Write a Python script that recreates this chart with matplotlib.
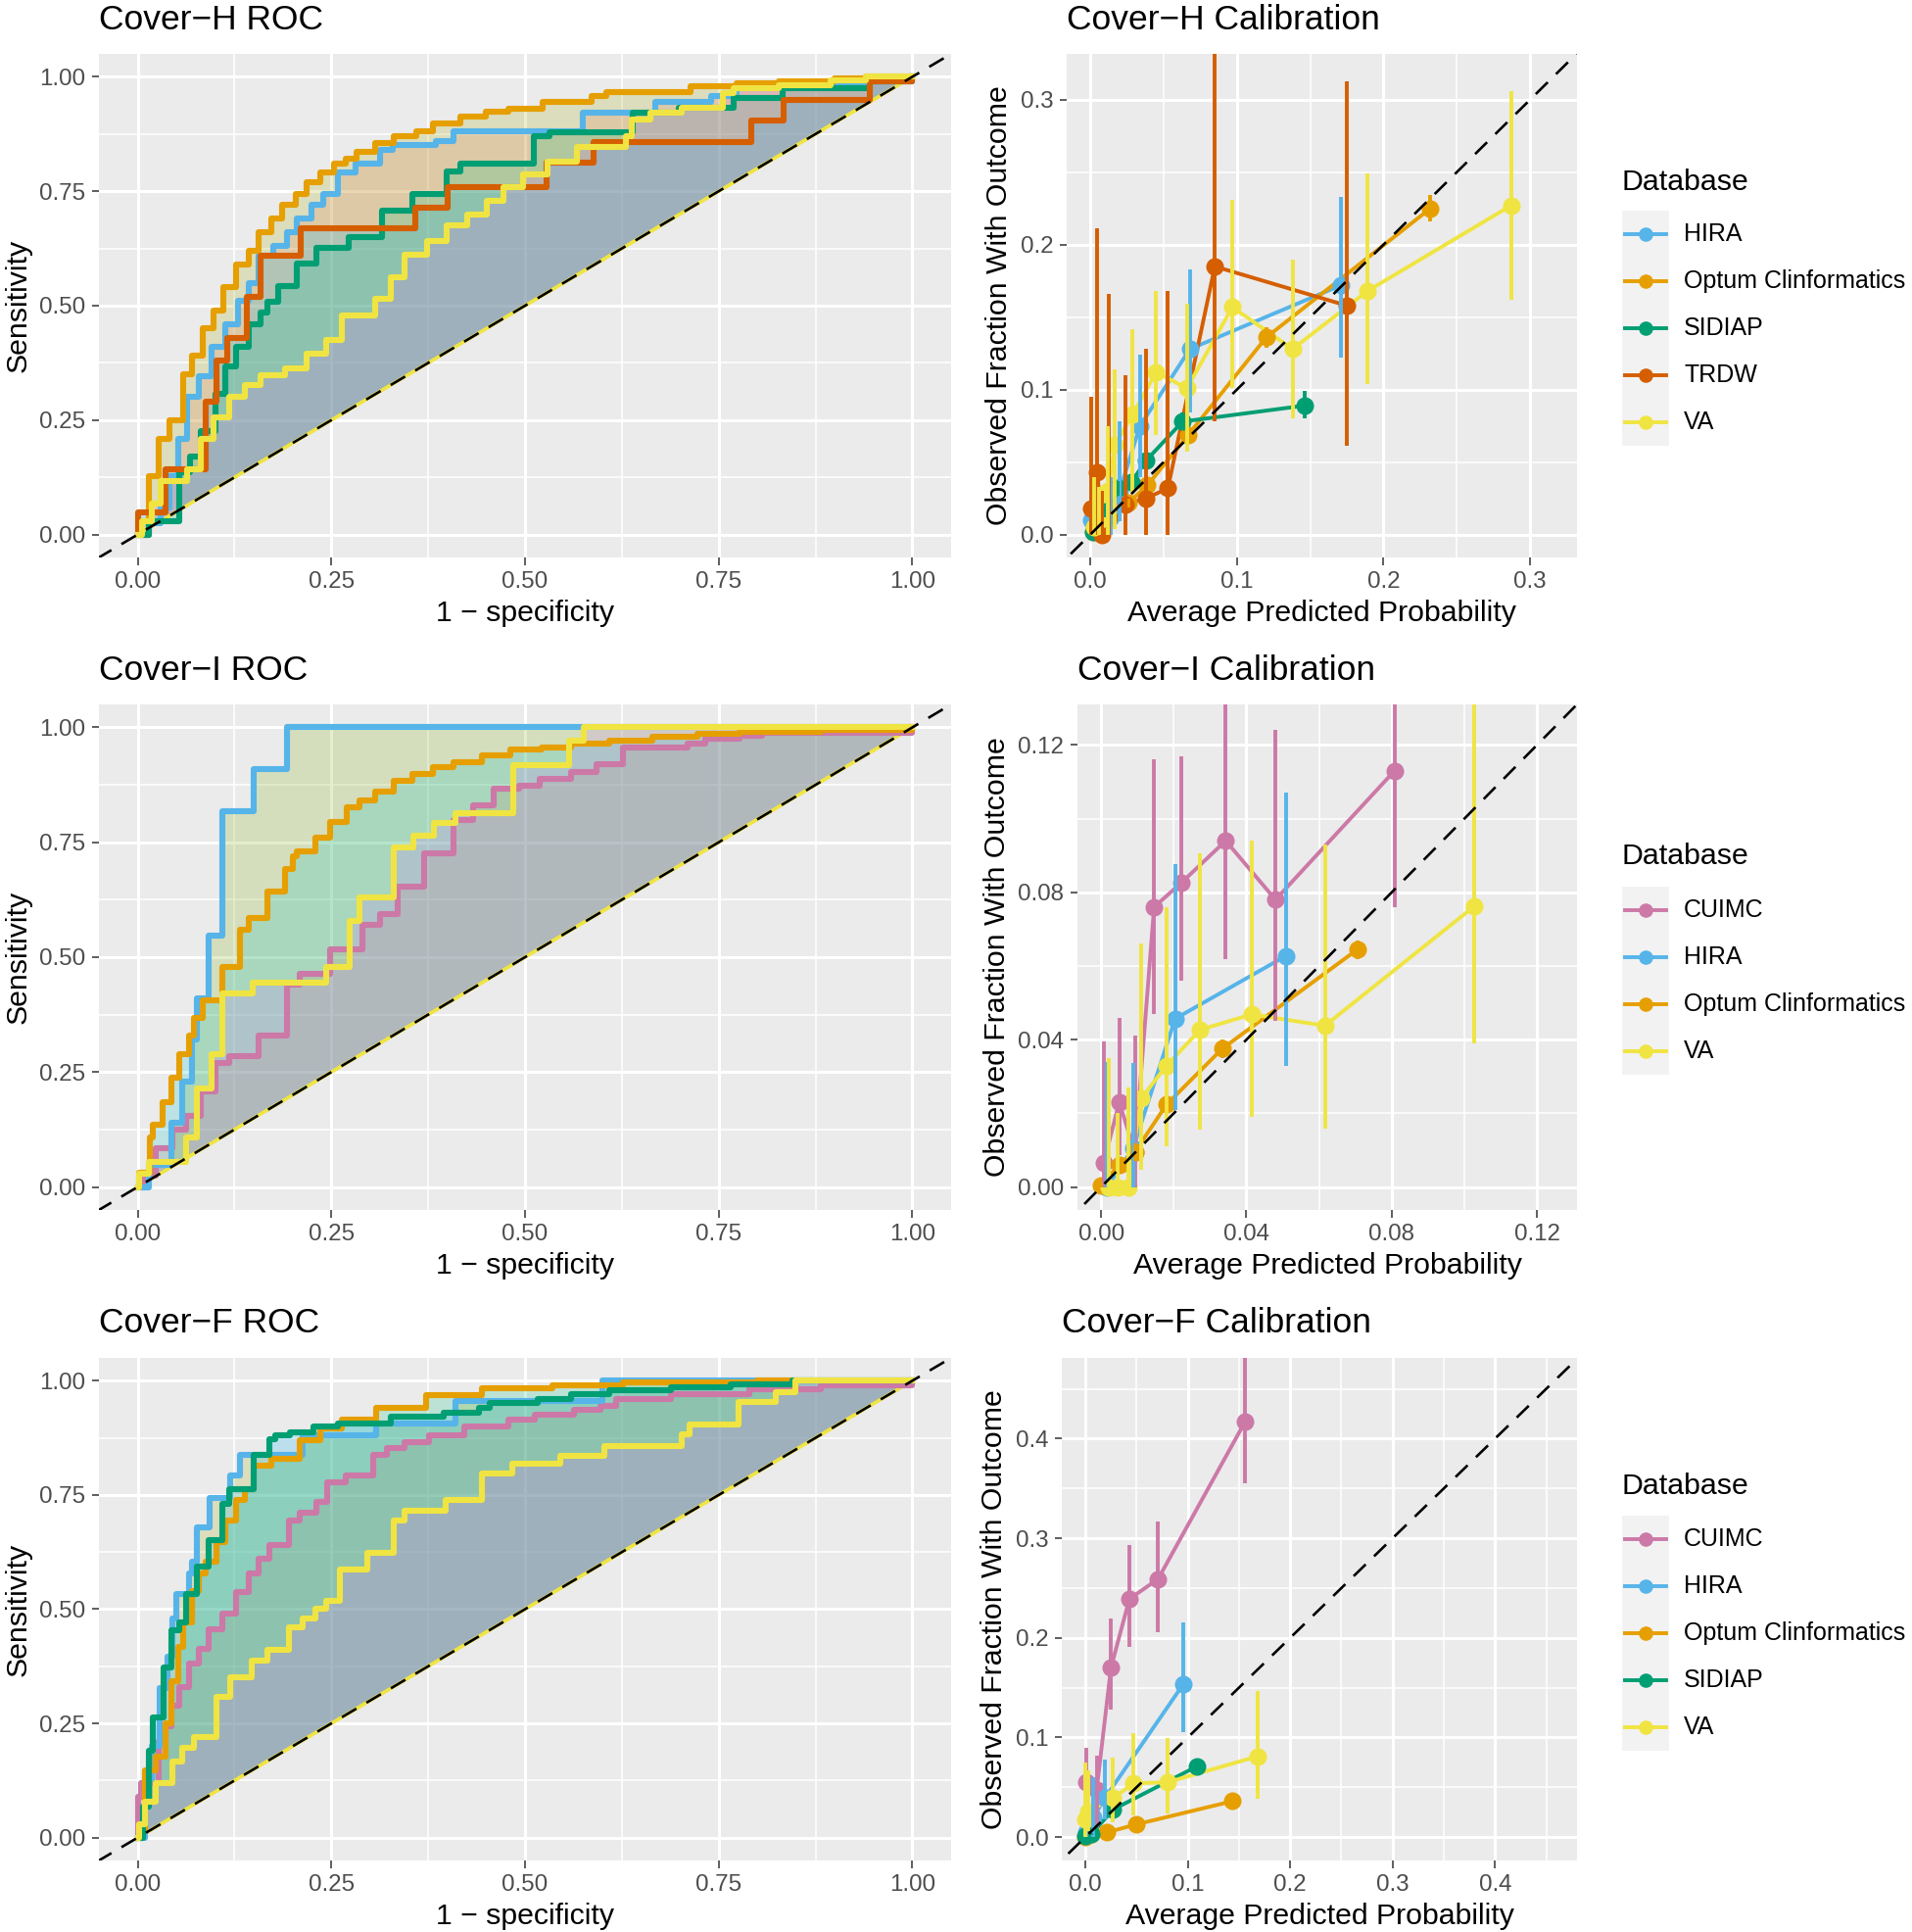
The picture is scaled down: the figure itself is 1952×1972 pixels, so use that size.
import numpy as np
import matplotlib
matplotlib.use("Agg")
import matplotlib.pyplot as plt
from matplotlib.patches import Rectangle

plt.rcParams['font.family'] = ['Liberation Sans', 'DejaVu Sans']

W, H = 1952, 1972
DPI = 100

# ---------------- colours ----------------
LINE_COLORS = {'CUIMC': '#CC79A7', 'HIRA': '#56B4E9', 'Optum Clinformatics': '#E69F00',
               'SIDIAP': '#009E73', 'TRDW': '#D55E00', 'VA': '#F0E442'}
HUE5 = ['#F8766D', '#A3A500', '#00BF7D', '#00B0F6', '#E76BF3']
HUE4 = ['#F8766D', '#7CAE00', '#00BFC4', '#C77CFF']

# ---------------- Cover-H ROC ----------------
H_HIRA_FPR = [0.0, 0.014, 0.030, 0.041, 0.052, 0.064, 0.079, 0.095, 0.113, 0.129, 0.143, 0.156, 0.175, 0.193, 0.206, 0.224,
              0.240, 0.259, 0.281, 0.313, 0.329, 0.385, 0.408, 0.574, 0.668, 0.740, 0.773, 0.832, 0.895, 0.945]
H_HIRA_TPR = [0.0, 0.025, 0.06, 0.128, 0.21, 0.30, 0.345, 0.41, 0.46, 0.51, 0.55, 0.61, 0.63, 0.66, 0.69, 0.72,
              0.745, 0.79, 0.81, 0.84, 0.85, 0.86, 0.88, 0.921, 0.946, 0.957, 0.975, 0.979, 0.986, 0.99]
H_OPTUM_FPR = [0.0, 0.014, 0.027, 0.041, 0.059, 0.070, 0.084, 0.098, 0.111, 0.127, 0.143, 0.156, 0.172, 0.186,
               0.204, 0.218, 0.236, 0.254, 0.268, 0.283, 0.306, 0.331, 0.360, 0.381, 0.417, 0.449, 0.478, 0.523,
               0.586, 0.605, 0.714, 0.773, 0.828, 0.90, 0.94]
H_OPTUM_TPR = [0.0, 0.128, 0.21, 0.25, 0.35, 0.39, 0.45, 0.49, 0.54, 0.59, 0.62, 0.66, 0.69, 0.72,
               0.745, 0.77, 0.79, 0.81, 0.82, 0.836, 0.855, 0.87, 0.88, 0.897, 0.912, 0.924, 0.931, 0.945,
               0.958, 0.967, 0.979, 0.986, 0.991, 0.996, 1.0]
H_SIDIAP_FPR = [0.0, 0.014, 0.054, 0.068, 0.082, 0.100, 0.113, 0.127, 0.143, 0.159, 0.168, 0.181, 0.206, 0.231,
                0.272, 0.315, 0.354, 0.399, 0.417, 0.512, 0.531, 0.639, 0.698, 0.769, 0.832, 0.945]
H_SIDIAP_TPR = [0.0, 0.03, 0.136, 0.17, 0.227, 0.307, 0.368, 0.41, 0.46, 0.486, 0.509, 0.543, 0.593, 0.627,
                0.65, 0.707, 0.745, 0.794, 0.81, 0.87, 0.878, 0.921, 0.932, 0.954, 0.975, 0.99]
H_TRDW_FPR = [0.0, 0.0, 0.036, 0.088, 0.102, 0.116, 0.141, 0.159, 0.211, 0.358, 0.40, 0.528, 0.588, 0.792, 0.834, 0.945]
H_TRDW_TPR = [0.0, 0.048, 0.143, 0.29, 0.38, 0.43, 0.52, 0.61, 0.67, 0.714, 0.76, 0.813, 0.857, 0.904, 0.95, 0.99]
H_VA_FPR = [0.0, 0.005, 0.018, 0.030, 0.064, 0.082, 0.098, 0.118, 0.138, 0.159, 0.190, 0.218, 0.243, 0.263,
            0.306, 0.327, 0.345, 0.374, 0.399, 0.426, 0.451, 0.472, 0.497, 0.529, 0.567, 0.630, 0.638, 0.662,
            0.702, 0.756, 0.769, 0.828, 0.895, 0.94]
H_VA_TPR = [0.0, 0.03, 0.067, 0.117, 0.143, 0.21, 0.257, 0.30, 0.326, 0.349, 0.364, 0.395, 0.425, 0.478,
            0.516, 0.562, 0.612, 0.642, 0.676, 0.699, 0.73, 0.76, 0.786, 0.814, 0.846, 0.871, 0.907, 0.921,
            0.932, 0.964, 0.975, 0.982, 0.993, 1.0]

# ---------------- Cover-I ROC ----------------
I_CUIMC_FPR = [0.0, 0.009, 0.023, 0.045, 0.063, 0.082, 0.100, 0.118, 0.156, 0.193, 0.209, 0.249, 0.290, 0.313,
               0.336, 0.370, 0.408, 0.433, 0.460, 0.492, 0.519, 0.560, 0.592, 0.626, 0.710, 0.733, 0.777, 0.806]
I_CUIMC_TPR = [0.0, 0.024, 0.085, 0.124, 0.154, 0.208, 0.269, 0.284, 0.33, 0.44, 0.463, 0.517, 0.57, 0.593,
               0.654, 0.727, 0.799, 0.83, 0.866, 0.872, 0.889, 0.902, 0.92, 0.957, 0.964, 0.975, 0.982, 0.989]
I_HIRA_FPR = [0.0, 0.014, 0.043, 0.057, 0.070, 0.077, 0.091, 0.109, 0.150, 0.193]
I_HIRA_TPR = [0.0, 0.047, 0.139, 0.23, 0.32, 0.41, 0.547, 0.818, 0.91, 1.0]
I_OPTUM_FPR = [0.0, 0.002, 0.016, 0.020, 0.032, 0.043, 0.054, 0.066, 0.073, 0.084, 0.109, 0.132, 0.143, 0.168,
               0.190, 0.200, 0.206, 0.229, 0.249, 0.270, 0.286, 0.306, 0.331, 0.354, 0.381, 0.408, 0.444, 0.481,
               0.521, 0.559, 0.609, 0.664, 0.723, 0.777, 0.882]
I_OPTUM_TPR = [0.0, 0.032, 0.108, 0.135, 0.185, 0.238, 0.288, 0.33, 0.368, 0.406, 0.479, 0.559, 0.585, 0.643,
               0.692, 0.719, 0.731, 0.761, 0.795, 0.826, 0.841, 0.86, 0.883, 0.898, 0.914, 0.925, 0.94, 0.952,
               0.957, 0.964, 0.971, 0.979, 0.986, 0.991, 0.995]
I_VA_FPR = [0.0, 0.002, 0.014, 0.063, 0.077, 0.095, 0.109, 0.148, 0.243, 0.274, 0.286, 0.331, 0.356, 0.383,
            0.410, 0.485, 0.557, 0.576]
I_VA_TPR = [0.0, 0.028, 0.055, 0.108, 0.215, 0.288, 0.421, 0.444, 0.479, 0.578, 0.631, 0.738, 0.765, 0.792,
            0.814, 0.917, 0.971, 1.0]

# ---------------- Cover-F ROC ----------------
F_CUIMC_FPR = [0.0, 0.0, 0.0045, 0.027, 0.036, 0.043, 0.054, 0.066, 0.079, 0.091, 0.109, 0.127, 0.143, 0.156,
               0.170, 0.195, 0.209, 0.231, 0.245, 0.268, 0.304, 0.322, 0.345, 0.376, 0.422, 0.478, 0.513, 0.563,
               0.597, 0.618, 0.689, 0.790, 0.882]
F_CUIMC_TPR = [0.0, 0.09, 0.12, 0.212, 0.243, 0.289, 0.33, 0.38, 0.414, 0.456, 0.491, 0.537, 0.579, 0.61,
               0.64, 0.693, 0.712, 0.735, 0.777, 0.792, 0.838, 0.853, 0.865, 0.88, 0.899, 0.915, 0.926, 0.936,
               0.946, 0.961, 0.971, 0.982, 0.989]
F_HIRA_FPR = [0.0, 0.009, 0.018, 0.029, 0.039, 0.045, 0.050, 0.066, 0.070, 0.077, 0.093, 0.120, 0.132, 0.213,
              0.308, 0.410, 0.600]
F_HIRA_TPR = [0.0, 0.128, 0.20, 0.327, 0.395, 0.479, 0.533, 0.579, 0.605, 0.678, 0.743, 0.792, 0.838, 0.88,
              0.907, 0.955, 1.0]
F_OPTUM_FPR = [0.0, 0.0045, 0.009, 0.023, 0.036, 0.043, 0.052, 0.059, 0.070, 0.079, 0.088, 0.102, 0.113, 0.127,
               0.138, 0.150, 0.172, 0.209, 0.236, 0.263, 0.308, 0.372, 0.444, 0.535, 0.626, 0.80]
F_OPTUM_TPR = [0.0, 0.014, 0.147, 0.178, 0.25, 0.342, 0.418, 0.472, 0.54, 0.579, 0.605, 0.647, 0.693, 0.739,
               0.762, 0.815, 0.83, 0.869, 0.895, 0.915, 0.941, 0.968, 0.983, 0.99, 0.996, 1.0]
F_SIDIAP_FPR = [0.0, 0.007, 0.014, 0.020, 0.034, 0.043, 0.054, 0.063, 0.077, 0.091, 0.109, 0.118, 0.150, 0.170,
                0.177, 0.197, 0.227, 0.259, 0.327, 0.395, 0.44, 0.454, 0.517, 0.559, 0.609, 0.689, 0.765, 0.845]
F_SIDIAP_TPR = [0.0, 0.067, 0.19, 0.262, 0.372, 0.453, 0.472, 0.533, 0.594, 0.651, 0.731, 0.762, 0.838, 0.873,
                0.88, 0.888, 0.899, 0.907, 0.922, 0.93, 0.941, 0.952, 0.96, 0.971, 0.979, 0.985, 0.993, 1.0]
F_VA_FPR = [0.0, 0.002, 0.009, 0.023, 0.045, 0.057, 0.073, 0.102, 0.120, 0.147, 0.168, 0.195, 0.213, 0.229,
            0.243, 0.261, 0.297, 0.331, 0.345, 0.397, 0.444, 0.483, 0.546, 0.603, 0.702, 0.713, 0.776, 0.824, 0.849]
F_VA_TPR = [0.0, 0.029, 0.079, 0.12, 0.166, 0.197, 0.22, 0.308, 0.35, 0.388, 0.41, 0.46, 0.48, 0.502,
            0.518, 0.586, 0.624, 0.693, 0.716, 0.739, 0.796, 0.819, 0.836, 0.857, 0.882, 0.904, 0.954, 0.975, 1.0]

# ---------------- Cover-H calibration ----------------
HC_HIRA_X = [0.001, 0.008, 0.014, 0.020, 0.034, 0.068, 0.171]
HC_HIRA_Y = [0.010, 0.004, 0.012, 0.030, 0.075, 0.128, 0.172]
HC_HIRA_LO = [0.0, 0.0, 0.0, 0.009, 0.040, 0.084, 0.122]
HC_HIRA_HI = [0.030, 0.025, 0.040, 0.078, 0.124, 0.183, 0.233]
HC_OPTUM_X = [0.002, 0.013, 0.026, 0.039, 0.067, 0.120, 0.232]
HC_OPTUM_Y = [0.002, 0.012, 0.022, 0.034, 0.069, 0.136, 0.225]
HC_OPTUM_LO = [0.0, 0.010, 0.019, 0.030, 0.064, 0.129, 0.216]
HC_OPTUM_HI = [0.004, 0.014, 0.025, 0.038, 0.074, 0.143, 0.234]
HC_SIDIAP_X = [0.002, 0.011, 0.019, 0.028, 0.038, 0.063, 0.146]
HC_SIDIAP_Y = [0.002, 0.016, 0.032, 0.036, 0.051, 0.078, 0.089]
HC_SIDIAP_LO = [0.001, 0.012, 0.027, 0.031, 0.045, 0.072, 0.080]
HC_SIDIAP_HI = [0.003, 0.020, 0.037, 0.041, 0.059, 0.084, 0.099]
HC_TRDW_X = [0.001, 0.005, 0.008, 0.013, 0.024, 0.038, 0.053, 0.085, 0.175]
HC_TRDW_Y = [0.018, 0.043, 0.0, 0.012, 0.021, 0.025, 0.032, 0.185, 0.158]
HC_TRDW_LO = [0.0, 0.0, 0.0, 0.0, 0.0, 0.0, 0.0, 0.078, 0.061]
HC_TRDW_HI = [0.095, 0.211, 0.030, 0.166, 0.110, 0.128, 0.168, 0.36, 0.313]
HC_VA_X = [0.003, 0.006, 0.012, 0.017, 0.029, 0.045, 0.066, 0.097, 0.138, 0.189, 0.287]
HC_VA_Y = [0.005, 0.010, 0.030, 0.062, 0.083, 0.112, 0.101, 0.157, 0.128, 0.168, 0.227]
HC_VA_LO = [0.0, 0.0, 0.0, 0.004, 0.028, 0.069, 0.057, 0.101, 0.080, 0.104, 0.162]
HC_VA_HI = [0.040, 0.033, 0.075, 0.114, 0.142, 0.168, 0.159, 0.231, 0.190, 0.249, 0.306]

# ---------------- Cover-I calibration ----------------
IC_CUIMC_X = [0.0007, 0.005, 0.0093, 0.0146, 0.0222, 0.0343, 0.048, 0.0808]
IC_CUIMC_Y = [0.0065, 0.023, 0.0095, 0.076, 0.0827, 0.094, 0.078, 0.113]
IC_CUIMC_LO = [0.0, 0.0086, 0.0, 0.047, 0.056, 0.062, 0.045, 0.076]
IC_CUIMC_HI = [0.0395, 0.046, 0.041, 0.116, 0.117, 0.14, 0.124, 0.15]
IC_HIRA_X = [0.0016, 0.0088, 0.0204, 0.0508]
IC_HIRA_Y = [0.0, 0.0105, 0.0457, 0.0627]
IC_HIRA_LO = [0.0, 0.0, 0.021, 0.033]
IC_HIRA_HI = [0.034, 0.0336, 0.0876, 0.107]
IC_OPTUM_X = [0.0, 0.005, 0.0093, 0.018, 0.0334, 0.0707]
IC_OPTUM_Y = [0.0005, 0.006, 0.0095, 0.0224, 0.0376, 0.0646]
IC_OPTUM_LO = [0.0, 0.004, 0.007, 0.020, 0.035, 0.062]
IC_OPTUM_HI = [0.001, 0.008, 0.012, 0.025, 0.040, 0.067]
IC_VA_X = [0.002, 0.0045, 0.0074, 0.011, 0.018, 0.0273, 0.0415, 0.0616, 0.1027]
IC_VA_Y = [0.0, 0.0, 0.0, 0.024, 0.033, 0.0427, 0.0469, 0.0438, 0.0762]
IC_VA_LO = [0.0, 0.0, 0.0, 0.0048, 0.011, 0.0157, 0.019, 0.016, 0.039]
IC_VA_HI = [0.035, 0.020, 0.027, 0.066, 0.076, 0.0907, 0.094, 0.093, 0.14]

# ---------------- Cover-F calibration ----------------
FC_CUIMC_X = [0.001, 0.011, 0.025, 0.043, 0.071, 0.156]
FC_CUIMC_Y = [0.055, 0.047, 0.17, 0.239, 0.259, 0.417]
FC_CUIMC_LO = [0.006, 0.010, 0.128, 0.191, 0.206, 0.355]
FC_CUIMC_HI = [0.09, 0.082, 0.219, 0.293, 0.317, 0.50]
FC_HIRA_X = [0.001, 0.008, 0.019, 0.096]
FC_HIRA_Y = [0.005, 0.020, 0.039, 0.154]
FC_HIRA_LO = [0.0, 0.0, 0.018, 0.105]
FC_HIRA_HI = [0.030, 0.060, 0.078, 0.215]
FC_OPTUM_X = [0.0, 0.006, 0.021, 0.050, 0.1437]
FC_OPTUM_Y = [0.0, 0.003, 0.0047, 0.0128, 0.036]
FC_OPTUM_LO = [0.0, 0.002, 0.004, 0.011, 0.033]
FC_OPTUM_HI = [0.001, 0.004, 0.006, 0.014, 0.039]
FC_SIDIAP_X = [0.0, 0.006, 0.027, 0.109]
FC_SIDIAP_Y = [0.0015, 0.003, 0.0276, 0.071]
FC_SIDIAP_LO = [0.0, 0.002, 0.024, 0.064]
FC_SIDIAP_HI = [0.002, 0.004, 0.030, 0.077]
FC_VA_X = [0.0, 0.003, 0.027, 0.047, 0.080, 0.168]
FC_VA_Y = [0.018, 0.026, 0.039, 0.054, 0.055, 0.081]
FC_VA_LO = [0.0, 0.006, 0.015, 0.022, 0.024, 0.038]
FC_VA_HI = [0.075, 0.067, 0.080, 0.104, 0.099, 0.147]

# ---------------- helpers ----------------
fig = plt.figure(figsize=(W / DPI, H / DPI), dpi=DPI)


def px_axes(l, t, r, b):
    return fig.add_axes([l / W, 1 - b / H, (r - l) / W, (b - t) / H])


def style(ax, xt, xl, yt, yl, xminor, yminor, xlim, ylim):
    ax.set_facecolor('#EBEBEB')
    for s in ax.spines.values():
        s.set_visible(False)
    ax.set_xticks(xt)
    ax.set_xticklabels(xl)
    ax.set_yticks(yt)
    ax.set_yticklabels(yl)
    ax.set_xticks(xminor, minor=True)
    ax.set_yticks(yminor, minor=True)
    ax.set_xlim(*xlim)
    ax.set_ylim(*ylim)
    ax.set_axisbelow(True)
    ax.grid(which='major', color='white', lw=2.2)
    ax.grid(which='minor', color='white', lw=1.1)
    ax.tick_params(which='major', length=5.4, width=1.1, color='#333333', labelsize=17.4,
                   labelcolor='#4D4D4D', pad=4.4)
    ax.tick_params(which='minor', length=0)


def step_path(fpr, tpr):
    xs, ys = [0.0], [0.0]
    for x, y in zip(fpr, tpr):
        prev = ys[-1]
        xs += [x, x]
        ys += [prev, y]
    xs += [1.0, 1.0]
    ys += [ys[-1], 1.0]
    return np.array(xs), np.array(ys)


def draw_roc(ax, curves, fills):
    paths = [step_path(f, t) for _, f, t in curves]
    for (xs, ys), fc in zip(paths, fills):
        ax.fill_between(xs, xs, ys, color=fc, alpha=0.2, lw=0)
    ax.plot([0, 1], [0, 1], color='#F0E442', lw=2.6, solid_capstyle='butt')
    for (name, _, _), (xs, ys) in zip(curves, paths):
        ax.plot(xs, ys, color=LINE_COLORS[name], lw=4.4)
    ax.plot([-0.2, 1.2], [-0.2, 1.2], color='black', lw=1.9, ls=(0, (6.5, 4.5)))
    rt = [0, 0.25, 0.5, 0.75, 1.0]
    rl = ['0.00', '0.25', '0.50', '0.75', '1.00']
    rm = [0.125, 0.375, 0.625, 0.875]
    style(ax, rt, rl, rt, rl, rm, rm, (-0.05, 1.05), (-0.05, 1.05))
    ax.set_xlabel('1 \u2212 specificity', fontsize=21.8, labelpad=5.5)
    ax.set_ylabel('Sensitivity', fontsize=21.8, labelpad=5.5)


def draw_cal(ax, series, ticks, labels, minor, xlim, ylim):
    for name, x, y, lo, hi in series:
        ax.plot(x, y, color=LINE_COLORS[name], lw=2.8)
    for name, x, y, lo, hi in series:
        ax.plot(x, y, ls='none', marker='o', ms=13, color=LINE_COLORS[name], mew=0)
    for name, x, y, lo, hi in series:
        ax.vlines(x, lo, hi, color=LINE_COLORS[name], lw=2.8)
    ax.plot([-1, 1], [-1, 1], color='black', lw=1.9, ls=(0, (6.5, 4.5)))
    style(ax, ticks, labels, ticks, labels, minor, minor, xlim, ylim)
    ax.set_xlabel('Average Predicted Probability', fontsize=21.8, labelpad=5.5)
    ax.set_ylabel('Observed Fraction With Outcome', fontsize=21.8, labelpad=5.5)


# ---------------- panels ----------------
ax1 = px_axes(101, 55, 971, 569)
draw_roc(ax1, [('HIRA', H_HIRA_FPR, H_HIRA_TPR), ('Optum Clinformatics', H_OPTUM_FPR, H_OPTUM_TPR),
               ('SIDIAP', H_SIDIAP_FPR, H_SIDIAP_TPR), ('TRDW', H_TRDW_FPR, H_TRDW_TPR),
               ('VA', H_VA_FPR, H_VA_TPR)], HUE5)

ax3 = px_axes(101, 719, 971, 1235)
draw_roc(ax3, [('CUIMC', I_CUIMC_FPR, I_CUIMC_TPR), ('HIRA', I_HIRA_FPR, I_HIRA_TPR),
               ('Optum Clinformatics', I_OPTUM_FPR, I_OPTUM_TPR), ('VA', I_VA_FPR, I_VA_TPR)], HUE4)

ax5 = px_axes(101, 1386, 971, 1899)
draw_roc(ax5, [('CUIMC', F_CUIMC_FPR, F_CUIMC_TPR), ('HIRA', F_HIRA_FPR, F_HIRA_TPR),
               ('Optum Clinformatics', F_OPTUM_FPR, F_OPTUM_TPR), ('SIDIAP', F_SIDIAP_FPR, F_SIDIAP_TPR),
               ('VA', F_VA_FPR, F_VA_TPR)], HUE5)

ax2 = px_axes(1089, 55, 1610, 569)
draw_cal(ax2, [('HIRA', HC_HIRA_X, HC_HIRA_Y, HC_HIRA_LO, HC_HIRA_HI),
               ('Optum Clinformatics', HC_OPTUM_X, HC_OPTUM_Y, HC_OPTUM_LO, HC_OPTUM_HI),
               ('SIDIAP', HC_SIDIAP_X, HC_SIDIAP_Y, HC_SIDIAP_LO, HC_SIDIAP_HI),
               ('TRDW', HC_TRDW_X, HC_TRDW_Y, HC_TRDW_LO, HC_TRDW_HI),
               ('VA', HC_VA_X, HC_VA_Y, HC_VA_LO, HC_VA_HI)],
         [0, 0.1, 0.2, 0.3], ['0.0', '0.1', '0.2', '0.3'], [0.05, 0.15, 0.25],
         (-0.016, 0.332), (-0.0157, 0.3316))

ax4 = px_axes(1100, 719, 1610, 1235)
draw_cal(ax4, [('CUIMC', IC_CUIMC_X, IC_CUIMC_Y, IC_CUIMC_LO, IC_CUIMC_HI),
               ('HIRA', IC_HIRA_X, IC_HIRA_Y, IC_HIRA_LO, IC_HIRA_HI),
               ('Optum Clinformatics', IC_OPTUM_X, IC_OPTUM_Y, IC_OPTUM_LO, IC_OPTUM_HI),
               ('VA', IC_VA_X, IC_VA_Y, IC_VA_LO, IC_VA_HI)],
         [0, 0.04, 0.08, 0.12], ['0.00', '0.04', '0.08', '0.12'], [0.02, 0.06, 0.10],
         (-0.0065, 0.131), (-0.0062, 0.131))

ax6 = px_axes(1084, 1386, 1610, 1899)
draw_cal(ax6, [('CUIMC', FC_CUIMC_X, FC_CUIMC_Y, FC_CUIMC_LO, FC_CUIMC_HI),
               ('HIRA', FC_HIRA_X, FC_HIRA_Y, FC_HIRA_LO, FC_HIRA_HI),
               ('Optum Clinformatics', FC_OPTUM_X, FC_OPTUM_Y, FC_OPTUM_LO, FC_OPTUM_HI),
               ('SIDIAP', FC_SIDIAP_X, FC_SIDIAP_Y, FC_SIDIAP_LO, FC_SIDIAP_HI),
               ('VA', FC_VA_X, FC_VA_Y, FC_VA_LO, FC_VA_HI)],
         [0, 0.1, 0.2, 0.3, 0.4], ['0.0', '0.1', '0.2', '0.3', '0.4'],
         [0.05, 0.15, 0.25, 0.35, 0.45], (-0.023, 0.48), (-0.0235, 0.481))

# ---------------- titles ----------------
def title_px(x, y, s):
    fig.text(x / W, 1 - y / H, s, fontsize=25.5, ha='left', va='center')


title_px(101, 20, 'Cover\u2212H ROC')
title_px(1089, 20, 'Cover\u2212H Calibration')
title_px(101, 685, 'Cover\u2212I ROC')
title_px(1100, 685, 'Cover\u2212I Calibration')
title_px(101, 1350, 'Cover\u2212F ROC')
title_px(1084, 1350, 'Cover\u2212F Calibration')

# ---------------- legends ----------------
lax = fig.add_axes([0, 0, 1, 1])
lax.set_xlim(0, W)
lax.set_ylim(H, 0)
lax.axis('off')
lax.patch.set_visible(False)


def legend(title_y, first_y, names):
    lax.text(1656, title_y, 'Database', fontsize=21.8, ha='left', va='center')
    for i, n in enumerate(names):
        cy = first_y + 48 * i
        lax.add_patch(Rectangle((1656, cy - 24), 48, 48, fc='#F2F2F2', ec='none'))
        lax.plot([1659, 1701], [cy, cy], color=LINE_COLORS[n], lw=2.8)
        lax.plot([1680], [cy], marker='o', ms=10.5, color=LINE_COLORS[n], mew=0)
        lax.text(1719, cy, n, fontsize=18, ha='left', va='center')


legend(186, 239, ['HIRA', 'Optum Clinformatics', 'SIDIAP', 'TRDW', 'VA'])
legend(874, 929, ['CUIMC', 'HIRA', 'Optum Clinformatics', 'VA'])
legend(1517, 1571, ['CUIMC', 'HIRA', 'Optum Clinformatics', 'SIDIAP', 'VA'])

fig.savefig('out.png', dpi=DPI)
